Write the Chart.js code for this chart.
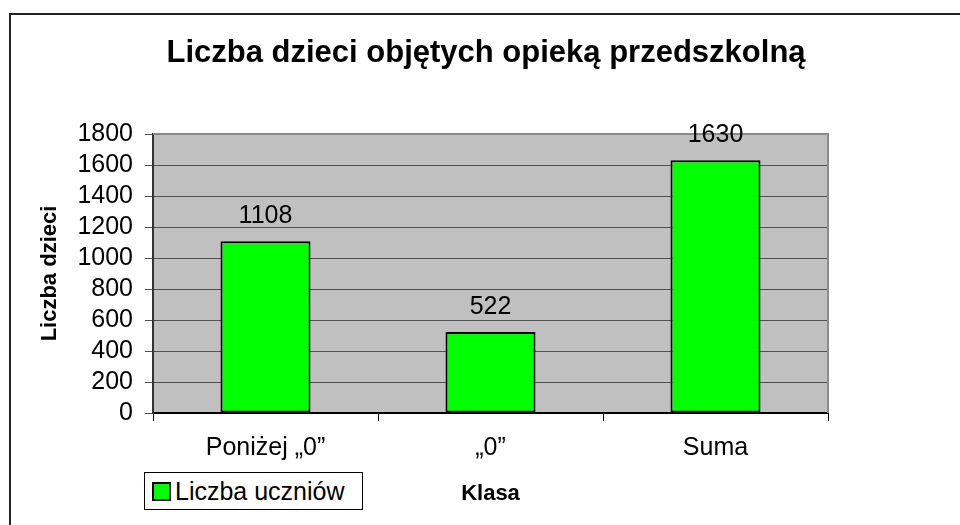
<!DOCTYPE html>
<html>
<head>
<meta charset="utf-8">
<script src="https://cdn.jsdelivr.net/npm/chart.js@4"></script>
<style>
  body { margin: 0; background: #fff; overflow: hidden; }
  #wrap { position: relative; width: 960px; height: 525px; }
  #frame { position: absolute; left: 9px; top: 13px; width: 1000px; height: 600px;
           border-top: 2px solid #222; border-left: 2px solid #222; }
  #c { position: absolute; left: 0; top: 0; }
  #legend { position: absolute; left: 144px; top: 472px; width: 217px; height: 36px;
            border: 1px solid #000; background: #fff; display: flex; align-items: center;
            font-family: "Liberation Sans", Arial, sans-serif; font-size: 25px; color: #000; }
  #legend .box { width: 15px; height: 15px; border: 2px solid #000; margin-left: 7px; margin-right: 4px; }
</style>
</head>
<body>
<div id="wrap">
  <div id="frame"></div>
  <canvas id="c" width="960" height="525"></canvas>
  <div id="legend"></div>
</div>
<script>
const categories = ['Poniżej „0”', '„0”', 'Suma'];
const seriesName = 'Liczba uczniów';
const values = [1108, 522, 1630];
const yMin = 0, yMax = 1800, yStep = 200;
const chartTitle = 'Liczba dzieci objętych opieką przedszkolną';

const FONT = '"Liberation Sans", Arial, sans-serif';

// grey plot background with light border on top/right
const plotBg = {
    id: 'plotBg',
    beforeDraw(chart) {
        const a = chart.chartArea, ctx = chart.ctx;
        ctx.save();
        ctx.fillStyle = '#c0c0c0';
        ctx.fillRect(a.left, a.top, a.right - a.left, a.bottom - a.top);
        ctx.restore();
    },
    beforeDatasetsDraw(chart) {
        const a = chart.chartArea, ctx = chart.ctx;
        ctx.save();
        ctx.strokeStyle = '#8a8a8a';
        ctx.lineWidth = 2;
        ctx.beginPath();
        ctx.moveTo(a.left, a.top);
        ctx.lineTo(a.right, a.top);
        ctx.lineTo(a.right, a.bottom);
        ctx.stroke();
        ctx.restore();
    }
};

// title centred on the whole frame, not on the padded area
const frameTitle = {
    id: 'frameTitle',
    afterDraw(chart) {
        const ctx = chart.ctx;
        ctx.save();
        ctx.font = 'bold 31px ' + FONT;
        ctx.fillStyle = '#000';
        ctx.textAlign = 'center';
        ctx.textBaseline = 'alphabetic';
        ctx.fillText(chartTitle, 486, 62);
        ctx.restore();
    }
};

// value labels above the bars
const valueLabels = {
    id: 'valueLabels',
    afterDatasetsDraw(chart) {
        const ctx = chart.ctx;
        ctx.save();
        ctx.font = '25px ' + FONT;
        ctx.fillStyle = '#000';
        ctx.textAlign = 'center';
        ctx.textBaseline = 'alphabetic';
        chart.getDatasetMeta(0).data.forEach((bar, i) => {
            ctx.fillText(String(chart.data.datasets[0].data[i]), bar.x, bar.y - 18);
        });
        ctx.restore();
    }
};

const data = {
    labels: categories,
    datasets: [{
        label: seriesName,
        data: values,
        backgroundColor: '#00ff00',
        borderColor: '#000',
        borderWidth: 2,
        borderSkipped: false,
        categoryPercentage: 1,
        barPercentage: 0.4
    }]
};

const config = {
    type: 'bar',
    data: data,
    options: {
        responsive: false,
        animation: false,
        layout: { padding: { left: 24, right: 132, top: 134, bottom: 0 } },
        plugins: {
            legend: { display: false },
            tooltip: { enabled: false },
            title: { display: false }
        },
        scales: {
            x: {
                grid: { display: true, offset: true, drawOnChartArea: false, drawTicks: true,
                        tickLength: 8, color: '#000', lineWidth: 1 },
                border: { display: true, color: '#000', width: 2 },
                ticks: { color: '#000', font: { family: FONT, size: 25 }, padding: 12, maxRotation: 0 },
                title: { display: true, text: 'Klasa', color: '#000',
                         font: { family: FONT, size: 22, weight: 'bold' },
                         padding: { top: 0, bottom: 18 } },
                afterFit(scale) { scale.height = 112; }
            },
            y: {
                min: yMin, max: yMax,
                grid: { color: '#505050', lineWidth: 1, tickLength: 8, drawTicks: true },
                border: { display: true, color: '#333', width: 2 },
                ticks: { stepSize: yStep, autoSkip: false, color: '#000',
                         font: { family: FONT, size: 25 }, padding: 12,
                         callback: v => String(v) },
                title: { display: true, text: 'Liczba dzieci', color: '#000',
                         font: { family: FONT, size: 22, weight: 'bold' },
                         padding: { top: 13, bottom: 0 } },
                afterFit(scale) { scale.width = 129; }
            }
        }
    },
    plugins: [plotBg, valueLabels, frameTitle]
};

let c = document.getElementById('c').getContext('2d');
const chart = new Chart(c, config);

// legend box built from the dataset
const lg = document.getElementById('legend');
chart.data.datasets.forEach(ds => {
    const box = document.createElement('span');
    box.className = 'box';
    box.style.background = ds.backgroundColor;
    const txt = document.createElement('span');
    txt.textContent = ds.label;
    lg.appendChild(box);
    lg.appendChild(txt);
});
</script>
</body>
</html>
